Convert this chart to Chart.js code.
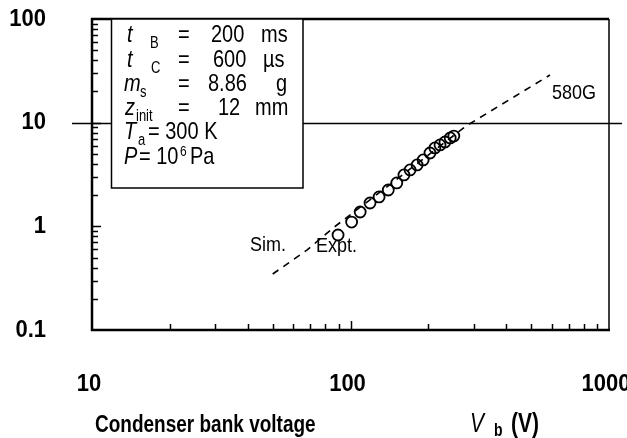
<!DOCTYPE html>
<html><head><meta charset="utf-8">
<script src="https://cdn.jsdelivr.net/npm/chart.js@4"></script>
<style>html,body{margin:0;padding:0;background:#fff}</style>
</head><body>
<canvas id="c" width="627" height="438"></canvas>
<script>
// Simulated curve (dashed) and measured points (circles)
const simVoltage = [50, 68, 85.6, 155, 280, 591];
const simValue   = [0.347, 0.592, 0.964, 2.99, 9.29, 28.8];
const exptVoltage = [89.5, 101, 109, 119, 129, 140, 151, 161, 170, 181, 191, 203, 212, 222, 232, 243, 251];
const exptValue   = [0.825, 1.10, 1.375, 1.68, 1.92, 2.24, 2.62, 3.13, 3.50, 3.91, 4.37, 5.10, 5.70, 6.10, 6.51, 7.12, 7.43];
const xTickLabels = [10, 100, 1000];
const yTickLabels = [0.1, 1, 10, 100];
const refLine = 10;

const FONT = "Arial, 'Liberation Sans', sans-serif";

// text with an optional vertical stretch (tall, narrow lettering)
function txt(ctx, s, x, y, font, align, sy, base) {
  ctx.save();
  ctx.font = font;
  ctx.textAlign = align || 'left';
  ctx.textBaseline = base || 'alphabetic';
  ctx.translate(x, y);
  ctx.scale(1, sy || 1);
  ctx.fillText(s, 0, 0);
  ctx.restore();
}

const decor = {
  id: 'decor',
  beforeDatasetsDraw(chart) {
    const ctx = chart.ctx, ys = chart.scales.y;
    const a = chart.chartArea;
    ctx.save();
    ctx.strokeStyle = '#000';
    // reference line at 10, reaching past both axes
    const yr = Math.round(ys.getPixelForValue(refLine)) + 0.5;
    ctx.lineWidth = 1.5;
    ctx.beginPath(); ctx.moveTo(a.left - 20, yr); ctx.lineTo(a.right + 13, yr); ctx.stroke();
    ctx.restore();
  },
  afterDraw(chart) {
    const ctx = chart.ctx, xs = chart.scales.x, ys = chart.scales.y;
    const a = chart.chartArea;
    ctx.save();
    ctx.strokeStyle = '#000';
    ctx.fillStyle = '#000';

    // minor / major ticks, pointing inward
    ctx.lineWidth = 1.5;
    for (let d = 0; d < xTickLabels.length - 1; d++) {
      for (let m = 2; m <= 9; m++) {
        const px = Math.round(xs.getPixelForValue(xTickLabels[d] * m)) + 0.5;
        ctx.beginPath(); ctx.moveTo(px, a.bottom); ctx.lineTo(px, a.bottom - 6); ctx.stroke();
      }
    }
    xTickLabels.slice(1, -1).forEach(v => {
      const px = Math.round(xs.getPixelForValue(v)) + 0.5;
      ctx.beginPath(); ctx.moveTo(px, a.bottom); ctx.lineTo(px, a.bottom - 9); ctx.stroke();
    });
    for (let d = 0; d < yTickLabels.length - 1; d++) {
      for (let m = 2; m <= 9; m++) {
        const py = Math.round(ys.getPixelForValue(yTickLabels[d] * m)) + 0.5;
        ctx.beginPath(); ctx.moveTo(a.left, py); ctx.lineTo(a.left + 6, py); ctx.stroke();
      }
    }
    yTickLabels.slice(1, -1).forEach(v => {
      const py = Math.round(ys.getPixelForValue(v)) + 0.5;
      ctx.beginPath(); ctx.moveTo(a.left, py); ctx.lineTo(a.left + 9, py); ctx.stroke();
    });

    // frame
    ctx.lineWidth = 1.5;
    ctx.beginPath(); ctx.moveTo(a.right, a.top); ctx.lineTo(a.right, a.bottom); ctx.stroke();
    ctx.lineWidth = 2.5;
    ctx.beginPath();
    ctx.moveTo(a.right, a.top); ctx.lineTo(a.left, a.top);
    ctx.lineTo(a.left, a.bottom); ctx.lineTo(a.right + 1, a.bottom);
    ctx.stroke();

    // tick labels
    const TK = 'bold 22px ' + FONT;
    yTickLabels.forEach(v => txt(ctx, String(v), 46, ys.getPixelForValue(v), TK, 'right', 1.12, 'middle'));
    xTickLabels.forEach(v => txt(ctx, String(v), xs.getPixelForValue(v) - 3, 384, TK, 'center', 1.12, 'middle'));

    // axis title
    const ST = 1.3;
    txt(ctx, 'Condenser bank voltage', 95, 432, 'bold 19px ' + FONT, 'left', ST);
    txt(ctx, 'V', 470, 432, 'italic 21px ' + FONT, 'left', ST);
    txt(ctx, 'b', 494, 436, 'bold 14px ' + FONT, 'left', ST);
    txt(ctx, '(V)', 511, 432, 'bold 21px ' + FONT, 'left', ST);

    // curve annotations
    txt(ctx, 'Sim.', 250, 251, '18px ' + FONT, 'left', 1.15);
    txt(ctx, 'Expt.', 316, 252, '18px ' + FONT, 'left', 1.15);
    txt(ctx, '580G', 552, 99, '18px ' + FONT, 'left', 1.1);

    // parameter box
    ctx.fillStyle = '#fff';
    ctx.fillRect(111, a.top, 192, 169);
    ctx.lineWidth = 1.5;
    ctx.strokeRect(111.5, a.top, 191.5, 169);
    ctx.fillStyle = '#000';
    const R = '20px ' + FONT, I = 'italic 20px ' + FONT, S = '13px ' + FONT;
    const SB = 1.22;
    const t = (s, x, y, f) => txt(ctx, s, x, y, f, 'left', SB);
    // row 1
    t('t', 127, 42, I); t('B', 150, 48, S);
    t('=', 178, 42, R); t('200', 211, 42, R); t('ms', 261, 42, R);
    // row 2
    t('t', 127, 67, I); t('C', 151, 73, S);
    t('=', 178, 67, R); t('600', 213, 67, R); t('µs', 263, 67, R);
    // row 3
    t('m', 124, 91, I); t('s', 140, 97, S);
    t('=', 178, 91, R); t('8.86', 208, 91, R); t('g', 276, 91, R);
    // row 4
    t('z', 125, 115, I); t('init', 136, 121, S);
    t('=', 178, 115, R); t('12', 218, 115, R); t('mm', 255, 115, R);
    // row 5
    t('T', 124, 139, I); t('a', 138, 145, S);
    t('= 300 K', 148, 139, R);
    // row 6
    t('P', 124, 164, I); t('= 10', 139, 164, R);
    t('6', 180, 156, '12px ' + FONT); t('Pa', 190, 164, R);

    ctx.restore();
  }
};

const hiddenAxis = {
  display: true,
  grid: { display: false, drawTicks: false },
  border: { display: false },
  ticks: { display: false },
  afterFit(s) { if (s.isHorizontal()) s.height = 0; else s.width = 0; }
};

new Chart(document.getElementById('c'), {
  type: 'scatter',
  data: {
    datasets: [
      {
        label: 'Sim.',
        data: simVoltage.map((v, i) => ({ x: v, y: simValue[i] })),
        showLine: true,
        borderColor: '#000',
        borderWidth: 1.6,
        borderDash: [7, 6],
        pointRadius: 0,
        tension: 0
      },
      {
        label: 'Expt.',
        data: exptVoltage.map((v, i) => ({ x: v, y: exptValue[i] })),
        showLine: false,
        pointStyle: 'circle',
        pointRadius: 5.5,
        borderColor: '#000',
        borderWidth: 1.8,
        backgroundColor: 'rgba(0,0,0,0)'
      }
    ]
  },
  options: {
    responsive: false,
    animation: false,
    devicePixelRatio: 1,
    layout: { padding: { left: 92, top: 19, right: 18, bottom: 108 } },
    plugins: { legend: { display: false }, tooltip: { enabled: false } },
    scales: {
      x: Object.assign({ type: 'logarithmic', min: 10, max: 1000 }, hiddenAxis),
      y: Object.assign({ type: 'logarithmic', min: 0.1, max: 100 }, hiddenAxis)
    }
  },
  plugins: [decor]
});
</script>
</body></html>
